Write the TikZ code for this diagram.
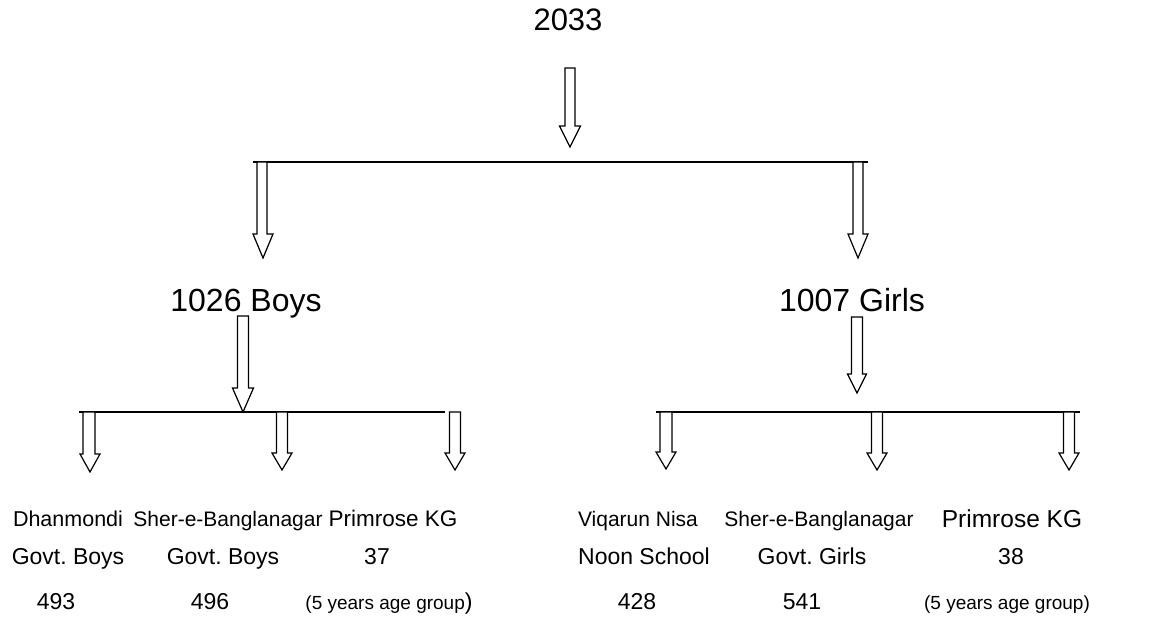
\documentclass[tikz,border=0pt]{standalone}
\usepackage{fontspec}
\setmainfont{Liberation Sans}
\usepackage{tikz}
\usetikzlibrary{calc}
\frenchspacing

\newcommand{\fs}[1]{\fontsize{#1}{#1}\selectfont}
\newcommand{\hollowdown}[5]{%
  \draw[hollow] let \p1=(#1), \p2=(#2) in
    (\x1-#3,\y1) -- (\x1+#3,\y1) -- (\x1+#3,\y2+#5) -- (\x2+#4,\y2+#5)
    -- (\x2,\y2) -- (\x2-#4,\y2+#5) -- (\x1-#3,\y2+#5) -- cycle;}

\begin{document}
\begin{tikzpicture}[x=1pt, y=-1pt,
  hollow/.style={draw=black, fill=white, line width=1.2pt, line join=miter},
  bar/.style={line width=1.2pt},
  lbl/.style={anchor=base, inner sep=0pt}]
\useasboundingbox (0,0) rectangle (1168,623);

\node (total) [lbl, font=\fs{31}] at (568,31) {2033};
\node (boys) [lbl, font=\fs{32}] at (246,311) {1026 Boys};
\node (girls) [lbl, font=\fs{32}] at (852,311) {1007 Girls};

\node (dhan) [lbl, font=\fs{21.5}] at (68,526) {Dhanmondi};
\node (dhan2) [lbl, font=\fs{23}] at (68,564) {Govt. Boys};
\node (dhan3) [lbl, font=\fs{23}] at (56,609) {493};
\node (sherb) [lbl, font=\fs{21}] at (228,526) {Sher-e-Banglanagar};
\node (sherb2) [lbl, font=\fs{23}] at (223,564) {Govt. Boys};
\node (sherb3) [lbl, font=\fs{23}] at (210,609) {496};
\node (primb) [lbl, font=\fs{22.5}] at (393,526) {Primrose KG};
\node (primb2) [lbl, font=\fs{23}] at (377,564) {37};
\node (primb3) [lbl, font=\fs{19}] at (389,609) {(5 years age group{\fs{23})}};

\node (viqa) [lbl, font=\fs{21}] at (638,526) {Viqarun Nisa};
\node (viqa2) [lbl, font=\fs{23}] at (644,564) {Noon School};
\node (viqa3) [lbl, font=\fs{23}] at (637,609) {428};
\node (sherg) [lbl, font=\fs{21}] at (819,526) {Sher-e-Banglanagar};
\node (sherg2) [lbl, font=\fs{23}] at (812,564) {Govt. Girls};
\node (sherg3) [lbl, font=\fs{23}] at (802,609) {541};
\node (primg) [lbl, font=\fs{24.5}] at (1012,527) {Primrose KG};
\node (primg2) [lbl, font=\fs{23}] at (1011,564) {38};
\node (primg3) [lbl, font=\fs{19}] at (1007,609) {(5 years age group)};

\coordinate (t0) at (570,68);  \coordinate (t1) at (570,147);
\coordinate (b0) at (253,162); \coordinate (b1) at (868,162);
\coordinate (bl0) at (262,162); \coordinate (bl1) at (263,258);
\coordinate (br0) at (858,162); \coordinate (br1) at (858,258);
\coordinate (m0) at (243,316); \coordinate (m1) at (243,412);
\coordinate (n0) at (857,317); \coordinate (n1) at (857,393);
\coordinate (l0) at (79,412);  \coordinate (l1) at (445,412);
\coordinate (r0) at (656,412); \coordinate (r1) at (1080,412);

\draw[bar] (b0) -- (b1);
\draw[bar] (l0) -- (l1);
\draw[bar] (r0) -- (r1);

\hollowdown{t0}{t1}{5pt}{10.5pt}{21pt}
\hollowdown{bl0}{bl1}{5pt}{10pt}{24pt}
\hollowdown{br0}{br1}{5pt}{10pt}{24pt}
\hollowdown{m0}{m1}{5.5pt}{10.5pt}{24pt}
\hollowdown{n0}{n1}{5.5pt}{9.5pt}{19pt}

\coordinate (a1) at (89,412);   \coordinate (a1t) at (90,472);
\coordinate (a2) at (282,412);  \coordinate (a2t) at (282,470);
\coordinate (a3) at (455,412);  \coordinate (a3t) at (455,470);
\coordinate (a4) at (666,412);  \coordinate (a4t) at (666,469);
\coordinate (a5) at (877,412);  \coordinate (a5t) at (877,470);
\coordinate (a6) at (1069,412); \coordinate (a6t) at (1069,470);
\hollowdown{a1}{a1t}{6pt}{10pt}{18pt}
\hollowdown{a2}{a2t}{5.5pt}{10pt}{17pt}
\hollowdown{a3}{a3t}{5.5pt}{10pt}{17pt}
\hollowdown{a4}{a4t}{6pt}{10pt}{17pt}
\hollowdown{a5}{a5t}{5.5pt}{10pt}{17pt}
\hollowdown{a6}{a6t}{5.5pt}{10pt}{17pt}
\end{tikzpicture}
\end{document}
